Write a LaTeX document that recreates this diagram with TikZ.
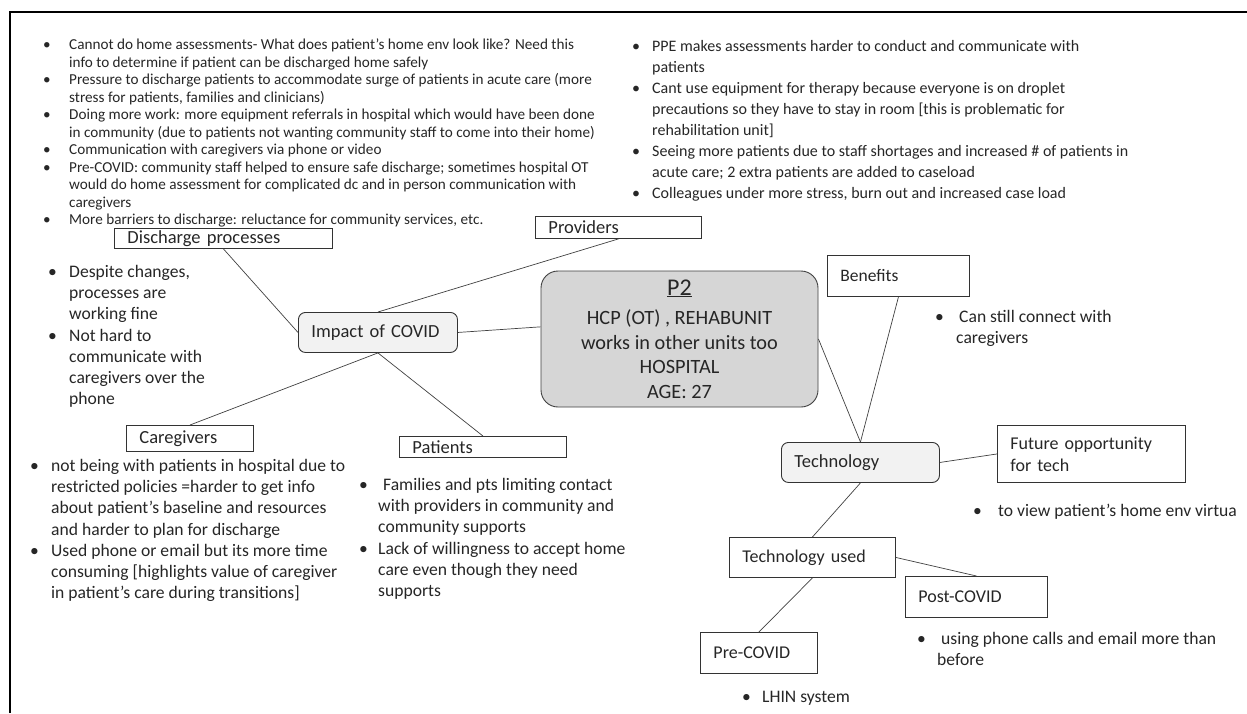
\documentclass[tikz,border=0pt]{standalone}
\usepackage{fontspec}
\setmainfont{Carlito}
\newcommand{\bul}[1][21pt]{\strut\makebox[#1][l]{\textbullet}}
\newcommand{\ind}[1][21pt]{\strut\hspace*{#1}}
\begin{document}
\begin{tikzpicture}[x=1pt,y=-1pt,
  every node/.style={inner sep=0pt, text=black!85},
  cat/.style={draw=black!80, line width=0.9pt, anchor=north west, align=left, inner xsep=13pt, font=\fontsize{18.5}{22}\selectfont},
  hub/.style={cat, rounded corners=7pt, fill=black!5},
  note/.style={anchor=north west, align=left, font=\fontsize{17.6}{21.3}\selectfont},
  conn/.style={draw=black!75, line width=0.7pt}]
\useasboundingbox (0,0) rectangle (1247,713);
\draw[line width=1.5pt] (10,713) -- (10,12) -- (1247,12);

\node[fill=black!16, draw=black!75, line width=0.9pt, rounded corners=17pt, minimum width=277pt, minimum height=136pt, align=center, font=\fontsize{20.3}{24.5}\selectfont] (p2) at (679.5,339)
  {{\fontsize{24}{26}\selectfont\underline{P2}}\\[5pt] HCP (OT) , REHABUNIT\\ works in other units too\\ HOSPITAL\\ AGE: 27};

\node[hub, text width=133pt, minimum height=40pt] (impact) at (298,312) {Impact of COVID};
\node[cat, text width=192pt, minimum height=20pt] (disch) at (114,228) {Discharge processes};
\node[cat, text width=140pt, minimum height=22pt] (prov) at (535,216) {Providers};
\node[cat, text width=101pt, minimum height=26pt] (careg) at (126,425) {Caregivers};
\node[cat, text width=141pt, minimum height=21pt] (patients) at (399,436) {Patients};
\node[cat, text width=116pt, minimum height=41pt, font=\fontsize{17.5}{21}\selectfont] (benef) at (827,255) {Benefits};
\node[hub, text width=132pt, minimum height=40pt] (tech) at (781,442) {Technology};
\node[cat, text width=162pt, minimum height=57pt, font=\fontsize{18}{22}\selectfont] (future) at (997,425) {Future opportunity\\for tech};
\node[cat, text width=140pt, minimum height=40pt, font=\fontsize{18}{22}\selectfont] (techused) at (729,537) {Technology used};
\node[cat, text width=116pt, minimum height=41pt, font=\fontsize{18}{22}\selectfont] (post) at (905,576) {Post-COVID};
\node[cat, text width=91pt, minimum height=41pt, font=\fontsize{18}{22}\selectfont] (pre) at (700,632) {Pre-COVID};

\draw[conn] (impact.west) -- (disch.south);
\draw[conn] (impact.north) -- (prov.south);
\draw[conn] (impact.east) -- (p2.175);
\draw[conn] (impact.south) -- (careg.north);
\draw[conn] (impact.south) -- (patients.north);
\draw[conn] (p2.east) -- (tech.north);
\draw[conn] (benef.south) -- (tech.north);
\draw[conn] (tech.east) -- (future.west);
\draw[conn] (tech.south) -- (techused.north);
\draw[conn] (techused.east) -- (post.north);
\draw[conn] (techused.south) -- (pre.north);

\node[note, font=\fontsize{15.2}{17.5}\selectfont] (dischnotes) at (43,37.5)
  {\bul[26pt]Cannot do home assessments- What does patient’s home env look like? Need this\\
   \ind[26pt]info to determine if patient can be discharged home safely\\
   \bul[26pt]Pressure to discharge patients to accommodate surge of patients in acute care (more\\
   \ind[26pt]stress for patients, families and clinicians)\\
   \bul[26pt]Doing more work: more equipment referrals in hospital which would have been done\\
   \ind[26pt]in community (due to patients not wanting community staff to come into their home)\\
   \bul[26pt]Communication with caregivers via phone or video\\
   \bul[26pt]Pre-COVID: community staff helped to ensure safe discharge; sometimes hospital OT\\
   \ind[26pt]would do home assessment for complicated dc and in person communication with\\
   \ind[26pt]caregivers\\
   \bul[26pt]More barriers to discharge: reluctance for community services, etc.};
\node[note, font=\fontsize{16}{21}\selectfont] (provnotes) at (632,37)
  {\bul[20pt]PPE makes assessments harder to conduct and communicate with\\
   \ind[20pt]patients\\
   \bul[20pt]Cant use equipment for therapy because everyone is on droplet\\
   \ind[20pt]precautions so they have to stay in room [this is problematic for\\
   \ind[20pt]rehabilitation unit]\\
   \bul[20pt]Seeing more patients due to staff shortages and increased \# of patients in\\
   \ind[20pt]acute care; 2 extra patients are added to caseload\\
   \bul[20pt]Colleagues under more stress, burn out and increased case load};
\node[note] (finenotes) at (48,262)
  {\bul Despite changes,\\ \ind processes are\\ \ind working fine\\
   \bul Not hard to\\ \ind communicate with\\ \ind caregivers over the\\ \ind phone};
\node[note] (caregnotes) at (30,456)
  {\bul not being with patients in hospital due to\\
   \ind restricted policies =harder to get info\\
   \ind about patient’s baseline and resources\\
   \ind and harder to plan for discharge\\
   \bul Used phone or email but its more time\\
   \ind consuming [highlights value of caregiver\\
   \ind in patient’s care during transitions]};
\node[note] (patnotes) at (359,475)
  {\bul[24pt]Families and pts limiting contact\\
   \ind[19pt]with providers in community and\\
   \ind[19pt]community supports\\
   \bul[19pt]Lack of willingness to accept home\\
   \ind[19pt]care even though they need\\
   \ind[19pt]supports};
\node[note] (benefnotes) at (935,307) {\bul[24pt]Can still connect with\\ \ind[21pt]caregivers};
\node[note] (futurenotes) at (973,501) {\bul[25pt]to view patient’s home env virtua};
\node[note] (postnotes) at (917,629) {\bul[24pt]using phone calls and email more than\\ \ind[20pt]before};
\node[note] (prenotes) at (742,687) {\bul[20pt]LHIN system};
\end{tikzpicture}
\end{document}
